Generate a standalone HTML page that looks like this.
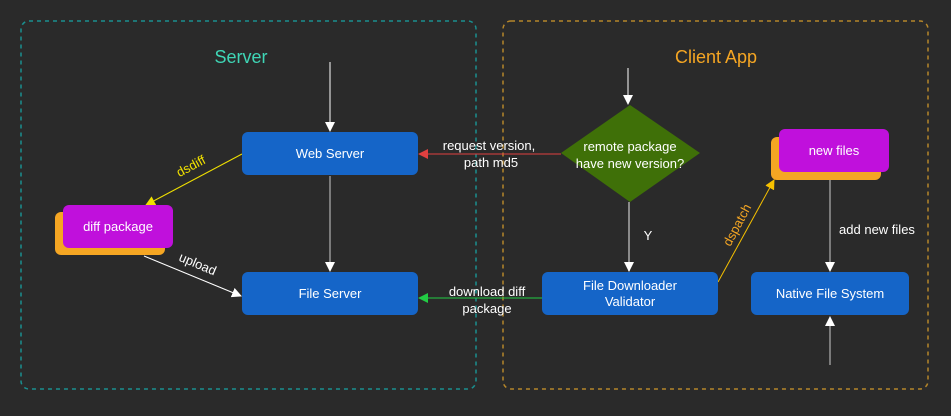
<!DOCTYPE html>
<html><head><style>
body{margin:0;background:#2a2a2a;width:951px;height:411px;overflow:hidden}
svg{font-family:"Liberation Sans",sans-serif}
</style></head><body>
<svg width="951" height="411" viewBox="0 0 951 411">
<defs>
<marker id="w" markerWidth="10" markerHeight="10" refX="9" refY="5" orient="auto" markerUnits="userSpaceOnUse"><path d="M0,0 L10,5 L0,10 z" fill="#fff"/></marker>
<marker id="r" markerWidth="10" markerHeight="10" refX="9" refY="5" orient="auto" markerUnits="userSpaceOnUse"><path d="M0,0 L10,5 L0,10 z" fill="#e04040"/></marker>
<marker id="g" markerWidth="10" markerHeight="10" refX="9" refY="5" orient="auto" markerUnits="userSpaceOnUse"><path d="M0,0 L10,5 L0,10 z" fill="#22cc44"/></marker>
<marker id="y" markerWidth="10" markerHeight="10" refX="9" refY="5" orient="auto" markerUnits="userSpaceOnUse"><path d="M0,0 L10,5 L0,10 z" fill="#f0e000"/></marker>
<marker id="o" markerWidth="10" markerHeight="10" refX="9" refY="5" orient="auto" markerUnits="userSpaceOnUse"><path d="M0,0 L10,5 L0,10 z" fill="#f5c000"/></marker>
</defs>
<rect x="21" y="21" width="455" height="368" rx="8" fill="none" stroke="#1a8f8f" stroke-width="1.5" stroke-dasharray="4,4"/>
<rect x="503" y="21" width="425" height="368" rx="8" fill="none" stroke="#b5862a" stroke-width="1.5" stroke-dasharray="4,4"/>
<text x="241" y="63" font-size="18" fill="#3fd6b6" text-anchor="middle">Server</text>
<text x="716" y="63" font-size="18" fill="#f5a623" text-anchor="middle">Client App</text>

<line x1="330" y1="62" x2="330" y2="131" stroke="#fff" marker-end="url(#w)"/>
<line x1="628" y1="68" x2="628" y2="104" stroke="#fff" marker-end="url(#w)"/>
<line x1="330" y1="176" x2="330" y2="271" stroke="#ccc" marker-end="url(#w)"/>
<line x1="629" y1="202" x2="629" y2="271" stroke="#aaa" stroke-width="1.5" marker-end="url(#w)"/>
<line x1="830" y1="179" x2="830" y2="271" stroke="#ccc" marker-end="url(#w)"/>
<line x1="830" y1="365" x2="830" y2="317" stroke="#ccc" marker-end="url(#w)"/>
<line x1="561" y1="154" x2="419" y2="154" stroke="#e04040" marker-end="url(#r)"/>
<line x1="542" y1="298" x2="419" y2="298" stroke="#22cc44" marker-end="url(#g)"/>
<line x1="242" y1="154" x2="146" y2="205" stroke="#f0e000" marker-end="url(#y)"/>
<line x1="144" y1="256" x2="241" y2="296" stroke="#fff" marker-end="url(#w)"/>
<line x1="718" y1="282" x2="774" y2="180" stroke="#f5c000" marker-end="url(#o)"/>

<rect x="242" y="132" width="176" height="43" rx="6" fill="#1565c8"/>
<text x="330" y="158" font-size="13" fill="#fff" text-anchor="middle">Web Server</text>
<rect x="242" y="272" width="176" height="43" rx="6" fill="#1565c8"/>
<text x="330" y="298" font-size="13" fill="#fff" text-anchor="middle">File Server</text>
<rect x="542" y="272" width="176" height="43" rx="6" fill="#1565c8"/>
<text x="630" y="290" font-size="13" fill="#fff" text-anchor="middle">File Downloader</text>
<text x="630" y="306" font-size="13" fill="#fff" text-anchor="middle">Validator</text>
<rect x="751" y="272" width="158" height="43" rx="6" fill="#1565c8"/>
<text x="830" y="298" font-size="13" fill="#fff" text-anchor="middle">Native File System</text>

<rect x="55" y="212" width="110" height="43" rx="6" fill="#f5a623"/>
<rect x="63" y="205" width="110" height="43" rx="6" fill="#c010dc"/>
<text x="118" y="231" font-size="13" fill="#fff" text-anchor="middle">diff package</text>
<rect x="771" y="137" width="110" height="43" rx="6" fill="#f5a623"/>
<rect x="779" y="129" width="110" height="43" rx="6" fill="#c010dc"/>
<text x="834" y="155" font-size="13" fill="#fff" text-anchor="middle">new files</text>

<polygon points="630,105 700,153 630,202 561,153" fill="#3f7008"/>
<text x="630" y="151" font-size="13" fill="#fff" text-anchor="middle">remote package</text>
<text x="630" y="168" font-size="13" fill="#fff" text-anchor="middle">have new version?</text>

<text x="489" y="150" font-size="13" fill="#fff" text-anchor="middle">request version,</text>
<text x="491" y="167" font-size="13" fill="#fff" text-anchor="middle">path md5</text>
<text x="487" y="296" font-size="13" fill="#fff" text-anchor="middle">download diff</text>
<text x="487" y="313" font-size="13" fill="#fff" text-anchor="middle">package</text>
<text x="648" y="240" font-size="13" fill="#fff" text-anchor="middle">Y</text>
<text x="877" y="234" font-size="13" fill="#fff" text-anchor="middle">add new files</text>
<text transform="translate(193,170) rotate(-28)" font-size="13" fill="#f0e000" text-anchor="middle">dsdiff</text>
<text transform="translate(196,268) rotate(23)" font-size="13" fill="#fff" text-anchor="middle">upload</text>
<text transform="translate(741,227) rotate(-62)" font-size="13" fill="#f5a623" text-anchor="middle">dspatch</text>
</svg>
</body></html>
